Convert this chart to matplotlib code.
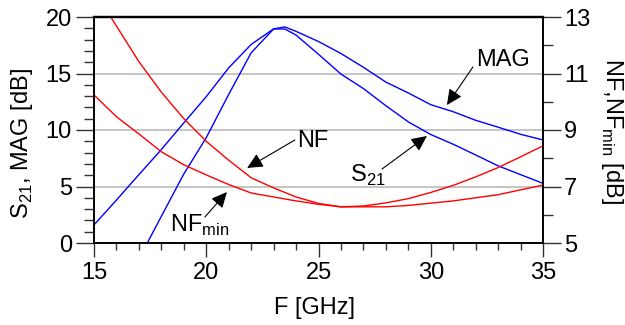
import matplotlib
matplotlib.use("Agg")
import matplotlib.pyplot as plt
from matplotlib.ticker import MultipleLocator

plt.rcParams['font.family'] = ['Liberation Sans', 'DejaVu Sans']
plt.rcParams['mathtext.fontset'] = 'custom'
plt.rcParams['mathtext.rm'] = 'Liberation Sans'

# ---- data ----
f_mag = [15, 16, 17, 18, 19, 20, 21, 22, 23, 23.5, 24, 25, 26, 27, 28, 29, 30, 31, 32, 33, 34, 35]
mag = [1.6, 3.8, 6.05, 8.27, 10.63, 12.95, 15.5, 17.57, 18.95, 19.12, 18.73, 17.83, 16.77,
       15.55, 14.24, 13.28, 12.24, 11.62, 10.86, 10.25, 9.62, 9.12]

f_s21 = [17, 18, 19, 20, 21, 22, 23, 23.5, 24, 25, 26, 27, 28, 29, 30, 31, 32, 33, 34, 35]
s21 = [-1.4, 2.36, 6.11, 9.32, 13.15, 16.83, 18.94, 18.94, 18.4, 16.7, 14.95, 13.67, 12.15,
       10.72, 9.6, 8.74, 7.79, 6.83, 6.05, 5.28]

f_nf = [15, 16, 17, 18, 19, 20, 21, 22, 23, 24, 25, 26, 27, 28, 29, 30, 31, 32, 33, 34, 35]
nf = [13.95, 12.68, 11.42, 10.34, 9.40, 8.60, 7.93, 7.31, 6.95, 6.63, 6.40, 6.28, 6.31,
      6.42, 6.57, 6.79, 7.04, 7.34, 7.67, 8.05, 8.44]
nfmin = [10.24, 9.47, 8.86, 8.23, 7.77, 7.41, 7.07, 6.77, 6.63, 6.49, 6.37, 6.28, 6.28,
         6.28, 6.33, 6.41, 6.49, 6.60, 6.71, 6.88, 7.05]

x_ticks = [15, 20, 25, 30, 35]
y_left_ticks = [0, 5, 10, 15, 20]
y_right_ticks = [5, 7, 9, 11, 13]

FS = 17

fig = plt.figure(figsize=(6.25, 3.25), dpi=100)
ax = fig.add_axes([94 / 625, 82 / 325, 449 / 625, 226 / 325])
ax2 = ax.twinx()

ax.set_xlim(15, 35)
ax.set_ylim(0, 20)
ax2.set_ylim(5, 13)

ax.set_xticks(x_ticks)
ax.set_yticks(y_left_ticks)
ax2.set_yticks(y_right_ticks)
ax.xaxis.set_minor_locator(MultipleLocator(1))
ax.yaxis.set_minor_locator(MultipleLocator(1))
ax2.yaxis.set_minor_locator(MultipleLocator(1))

ax.yaxis.grid(True, which='major', color='#c0c0c0', lw=1.3)
ax.set_axisbelow(True)

ax.plot(f_mag, mag, color='#0000ff', lw=1.0, clip_on=True)
ax.plot(f_s21, s21, color='#0000ff', lw=1.0, clip_on=True)
ax2.plot(f_nf, nf, color='#ff0000', lw=1.0, clip_on=True)
ax2.plot(f_nf, nfmin, color='#ff0000', lw=1.0, clip_on=True)

for a in (ax, ax2):
    for s in a.spines.values():
        s.set_color('black')
        s.set_linewidth(1.2)
    a.spines['top'].set_linewidth(1.6)

ax.tick_params(axis='x', which='major', direction='out', length=10, width=1, color='#333333',
               labelsize=FS, pad=4)
ax.tick_params(axis='x', which='minor', direction='out', length=5, width=1, color='#333333')
ax.tick_params(axis='y', which='major', direction='out', length=13, width=1, color='#333333',
               labelsize=FS, pad=3)
ax.tick_params(axis='y', which='minor', direction='out', length=7, width=1, color='#333333')
ax2.tick_params(axis='y', which='major', direction='out', length=13, width=1, color='#333333',
                labelsize=FS, pad=2)
ax2.tick_params(axis='y', which='minor', direction='out', length=7, width=1, color='#333333')

fig.text(22 / 625, 1 - 144 / 325, r'S$_{\mathregular{21}}$, MAG [dB]', rotation=90,
         ha='center', va='center', fontsize=FS)
fig.text(612 / 625, 1 - 131 / 325, r'NF,NF$_{\mathregular{min}}$ [dB]', rotation=-90,
         ha='center', va='center', fontsize=FS)
fig.text(315 / 625, 1 - 308 / 325, 'F [GHz]', ha='center', va='center', fontsize=FS)

arrow = dict(arrowstyle='-|>,head_length=0.95,head_width=0.45', color='black', lw=0.8,
             shrinkA=0, shrinkB=0)
ax.annotate('', xy=(30.72, 12.21), xytext=(31.88, 15.58), arrowprops=arrow)
ax.annotate('', xy=(21.82, 6.64), xytext=(23.95, 9.12), arrowprops=arrow)
ax.annotate('', xy=(29.83, 9.47), xytext=(27.83, 6.55), arrowprops=arrow)
ax.annotate('', xy=(20.92, 4.51), xytext=(19.94, 2.30), arrowprops=arrow)

ax.text(32.0, 16.2, 'MAG', ha='left', va='center', fontsize=FS)
ax.text(24.05, 9.0, 'NF', ha='left', va='center', fontsize=FS)
ax.text(26.4, 5.42, r'S$_{\mathregular{21}}$', ha='left', va='baseline', fontsize=FS)
ax.text(18.4, 1.0, r'NF$_{\mathregular{min}}$', ha='left', va='baseline', fontsize=FS)

fig.savefig('out.png', dpi=100)
